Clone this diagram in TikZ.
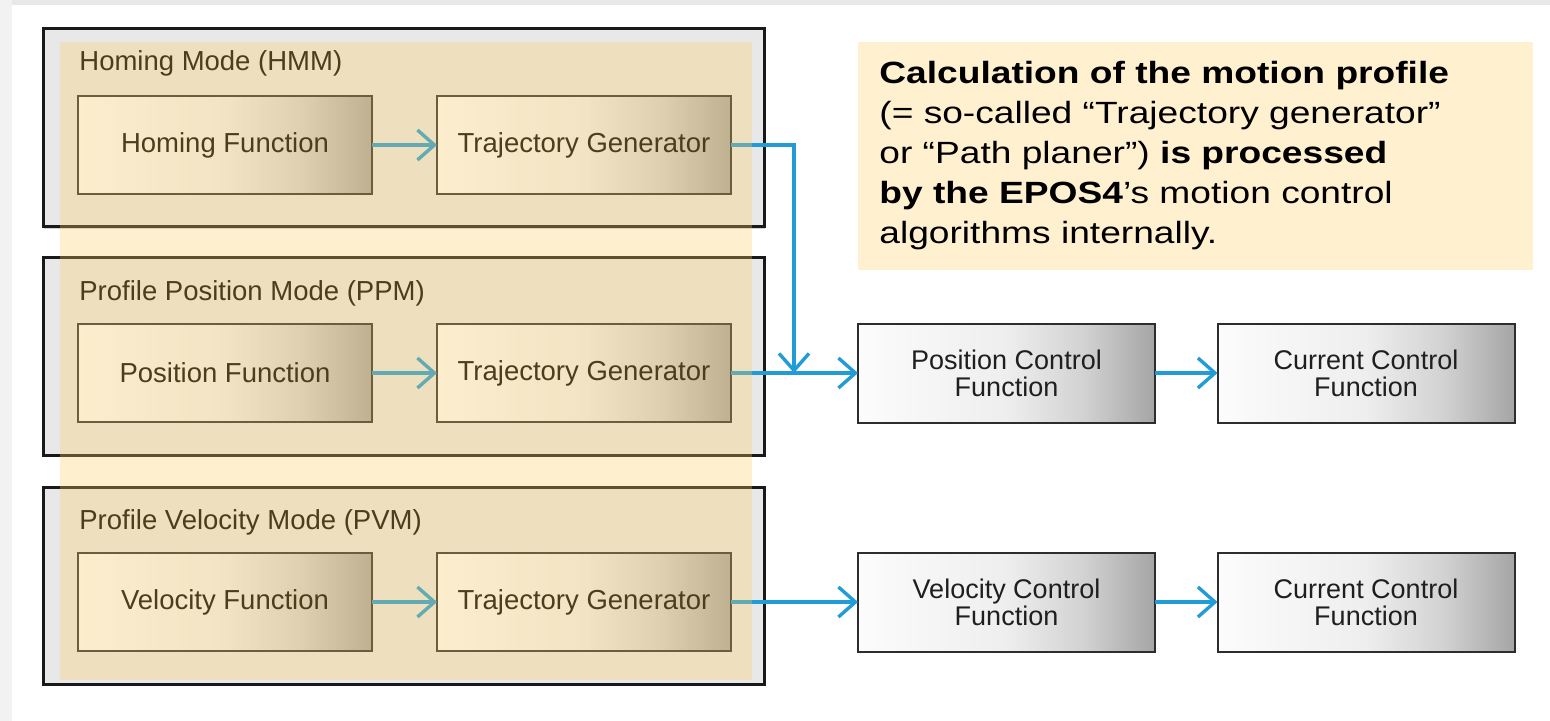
\documentclass[tikz,border=0pt]{standalone}
\usepackage{fontspec}
\setmainfont{Liberation Sans}
\newfontfamily\calfont[FakeStretch=1.21]{Liberation Sans}
\usetikzlibrary{arrows.meta,shadows}
\definecolor{arrowblue}{RGB}{34,156,214}
\definecolor{overlaytan}{RGB}{252,205,98}
\definecolor{modegray}{RGB}{232,232,232}
\definecolor{calloutfill}{RGB}{255,240,207}
\definecolor{boxborder}{RGB}{45,45,45}
\definecolor{shadeA}{RGB}{252,252,252}
\definecolor{shadeB}{RGB}{238,238,238}
\definecolor{shadeC}{RGB}{210,210,210}
\definecolor{shadeD}{RGB}{165,165,165}
\pgfdeclarehorizontalshading{funcshade}{100bp}{color(0bp)=(shadeA); color(25bp)=(shadeA); color(50bp)=(shadeB); color(63bp)=(shadeC); color(75bp)=(shadeD); color(100bp)=(shadeD)}
\tikzset{
  modebox/.style={draw=black!90, line width=1.5pt, fill=modegray, inner sep=0pt, outer sep=0pt,
    minimum width=360.5pt, drop shadow={shadow xshift=0.6pt, shadow yshift=-0.9pt, opacity=0.35}},
  funcbox/.style={draw=boxborder, line width=1pt, shading=funcshade, inner sep=0pt, outer sep=0pt,
    minimum width=147pt, minimum height=49pt, font=\fontsize{13.75pt}{14pt}\selectfont, align=center},
  ctrlbox/.style={funcbox, minimum width=148.5pt, minimum height=49.5pt, text=black!88,
    font=\fontsize{13.5pt}{13.5pt}\selectfont,
    drop shadow={shadow xshift=0.6pt, shadow yshift=-0.8pt, opacity=0.3}},
  modetitle/.style={anchor=base west, inner sep=0pt, font=\fontsize{13.75pt}{14pt}\selectfont},
  callline/.style={anchor=base west, inner sep=0pt, font=\calfont\fontsize{15.35pt}{20pt}\selectfont},
  flow/.style={draw=arrowblue, line width=1.7pt, -{Straight Barb[length=8.5pt,width=15pt]}}
}
\begin{document}
\begin{tikzpicture}[x=0.5pt,y=-0.5pt]
\useasboundingbox (0,0) rectangle (1550,721);
\fill[white] (0,0) rectangle (1550,721);
\fill[black!9] (0,0) rectangle (1550,5);
\fill[black!5] (0,0) rectangle (12,721);

% mode containers
\node[modebox, minimum height=99pt] (hmm) at (403.5,128) {};
\node[modebox, minimum height=98.5pt] (ppm) at (403.5,356.5) {};
\node[modebox, minimum height=98.5pt] (pvm) at (403.5,585.5) {};

\node[modetitle] (thmm) at (79,71) {Homing Mode (HMM)};
\node[modetitle] (tppm) at (79,300) {Profile Position Mode (PPM)};
\node[modetitle] (tpvm) at (79,529) {Profile Velocity Mode (PVM)};

% function boxes
\node[funcbox] (hf) at (225,145) {Homing Function};
\node[funcbox] (tg1) at (584,145) {Trajectory Generator};
\node[funcbox] (pf) at (225,373) {Position Function};
\node[funcbox] (tg2) at (584,373) {Trajectory Generator};
\node[funcbox] (vf) at (225,602) {Velocity Function};
\node[funcbox] (tg3) at (584,602) {Trajectory Generator};

% control boxes
\node[ctrlbox] (pc) at (1006.5,373) {Position Control\\Function};
\node[ctrlbox] (cc1) at (1366,373) {Current Control\\Function};
\node[ctrlbox] (vc) at (1006.5,602) {Velocity Control\\Function};
\node[ctrlbox] (cc2) at (1366,602) {Current Control\\Function};

% connectors
\coordinate (j) at (794,373);
\draw[flow] (hf) -- (tg1);
\draw[flow] (tg1.east) -| (j);
\draw[flow] (pf) -- (tg2);
\draw[flow] (tg2) -- (pc);
\draw[flow] (pc) -- (cc1);
\draw[flow] (vf) -- (tg3);
\draw[flow] (tg3) -- (vc);
\draw[flow] (vc) -- (cc2);

% tan overlay
\fill[overlaytan, fill opacity=0.3] (60,42) rectangle (752,680);

% callout
\node[fill=calloutfill, inner sep=0pt, minimum width=337.5pt, minimum height=114pt] (callout) at (1195.5,156) {};
\node[callline] (c1) at (879,84) {\textbf{Calculation of the motion profile}};
\node[callline] (c2) at (879,124) {(= so-called “Trajectory generator”};
\node[callline] (c3) at (879,164) {or “Path planer”) \textbf{is processed}};
\node[callline] (c4) at (879,204) {\textbf{by the EPOS4}’s motion control};
\node[callline] (c5) at (879,244) {algorithms internally.};
\end{tikzpicture}
\end{document}
